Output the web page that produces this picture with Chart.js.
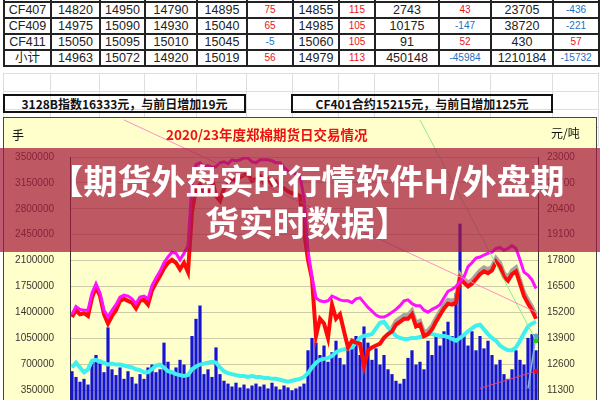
<!DOCTYPE html>
<html lang="zh-CN">

<head>
    <meta charset="UTF-8">
    <title>2020/23年度郑棉期货日交易情况</title>
    <script src="https://cdn.jsdelivr.net/npm/chart.js"></script>
    <style>
        body {
            margin: 0;
            width: 600px;
            height: 400px;
            overflow: hidden;
            position: relative;
            background: #fff;
            font-family: Arial, "Noto Sans CJK SC", sans-serif;
        }

        table {
            position: absolute;
            left: 3px;
            border-collapse: collapse;
            table-layout: fixed;
            width: 595px;
        }

        #grid {
            top: 73px;
        }

        #grid td {
            border: 1px solid #dedede;
            height: 17px;
            padding: 0;
        }

        #sheet {
            top: -14px;
        }

        #sheet td {
            border: 2px solid #222;
            padding: 0;
            text-align: center;
            font-size: 12.5px;
            color: #222;
            line-height: 14px;
        }

        #sheet td.small {
            font-size: 10px;
        }

        .up { color: #e8141c !important; }
        .down { color: #1e6fc0 !important; }

        .box {
            position: absolute;
            top: 94px;
            height: 19px;
            border: 2px solid #111;
            box-sizing: border-box;
            font-family: "Noto Sans CJK SC", sans-serif;
            font-weight: bold;
            font-size: 12px;
            line-height: 15px;
            text-align: center;
            color: #111;
        }

        #frame {
            position: absolute;
            left: 3px;
            top: 117px;
            width: 594px;
            height: 300px;
            background: #ffffcc;
            border: 1px solid #444;
            box-sizing: border-box;
        }

        #chart {
            position: absolute;
            left: 4px;
            top: 118px;
        }

        .label {
            position: absolute;
            font-family: "Noto Sans CJK SC", sans-serif;
            white-space: nowrap;
        }

        #banner {
            position: absolute;
            left: 0;
            top: 148px;
            width: 600px;
            height: 104px;
            background: rgba(165, 25, 60, 0.72);
            color: #fff;
            font-family: "Noto Sans CJK SC", sans-serif;
            font-weight: bold;
            font-size: 34px;
            line-height: 42px;
            text-align: center;
            padding: 11px 0 0 14px;
            box-sizing: border-box;
            white-space: nowrap;
        }
    </style>
</head>

<body>
    <table id="grid"></table>
    <table id="sheet"></table>

    <div class="box" style="left:3px; width:243px;">3128B指数16333元，与前日增加19元</div>
    <div class="box" style="left:291px; width:262px;">CF401合约15215元，与前日增加125元</div>

    <div id="frame"></div>
    <canvas id="chart" width="592" height="320"></canvas>

    <div class="label" style="left:12px; top:126px; font-size:12px; color:#111;">手</div>
    <div class="label" style="left:166px; top:124px; font-size:13.5px; font-weight:bold; color:#ee1111;">2020/23年度郑棉期货日交易情况</div>
    <div class="label" style="left:551px; top:124px; font-size:12px; color:#111;">元/吨</div>

    <div id="banner">【期货外盘实时行情软件H/外盘期<br>货实时数据】</div>

    <script>
        // spreadsheet part above the chart
        const colWidths = [47, 49, 45, 52, 50, 46, 46, 36, 64, 52, 62, 46];
        const tableRows = [
            ["CF407", "14820", "14950", "14790", "14895", "75", "14855", "115", "2743", "43", "23705", "-436"],
            ["CF409", "14975", "15090", "14930", "15040", "65", "14985", "105", "10175", "-147", "38720", "-221"],
            ["CF411", "15050", "15095", "15010", "15045", "-5", "15060", "105", "91", "52", "430", "57"],
            ["小计", "14963", "15072", "14920", "15019", "56", "14979", "113", "450148", "-45984", "1210184", "-15732"]
        ];
        const rowHeights = [15, 16, 15, 16, 15];
        const changeCols = [5, 7, 9, 11];

        // chart data, one value per trading day
        const volume = [
            605000, 528000, 463000, 502000, 425000, 733000, 824000, 759000, 592000, 1197000,
            631000, 553000, 656000, 502000, 605000, 528000, 438000, 566000, 502000, 656000,
            695000, 592000, 631000, 991000, 733000, 566000, 656000, 759000, 695000, 566000,
            1081000, 1313000, 1493000, 566000, 631000, 528000, 927000, 566000, 476000, 438000,
            399000, 450000, 386000, 425000, 373000, 412000, 438000, 399000, 425000, 373000,
            450000, 399000, 360000, 412000, 386000, 347000, 373000, 399000, 438000, 888000,
            1055000, 991000, 824000, 952000, 733000, 862000, 1017000, 785000, 695000, 888000,
            952000, 1081000, 824000, 1210000, 991000, 759000, 914000, 695000, 824000, 631000,
            566000, 476000, 438000, 502000, 785000, 888000, 695000, 733000, 631000, 1017000,
            824000, 1081000, 952000, 1145000, 1274000, 1081000, 1660000, 2599000, 1081000, 952000,
            1145000, 888000, 1081000, 914000, 1017000, 824000, 695000, 759000, 566000, 502000,
            631000, 888000, 759000, 695000, 1055000, 1107000, 888000
        ];
        const openInterest = [
            656000, 721000, 656000, 592000, 631000, 746000, 759000, 733000, 721000, 695000,
            708000, 695000, 695000, 682000, 669000, 656000, 631000, 618000, 592000, 592000,
            631000, 682000, 695000, 656000, 605000, 592000, 566000, 553000, 540000, 553000,
            631000, 669000, 695000, 708000, 721000, 733000, 721000, 656000, 605000, 579000,
            566000, 553000, 540000, 540000, 528000, 540000, 528000, 528000, 515000, 515000,
            502000, 502000, 489000, 476000, 463000, 476000, 489000, 502000, 528000, 579000,
            656000, 721000, 759000, 772000, 785000, 811000, 862000, 888000, 901000, 914000,
            927000, 991000, 1055000, 1081000, 1094000, 1107000, 1184000, 1261000, 1274000, 1197000,
            1145000, 1081000, 1055000, 1042000, 1042000, 1055000, 1055000, 1068000, 1081000, 1107000,
            1107000, 1094000, 1081000, 1081000, 1068000, 1042000, 1017000, 1055000, 1094000, 1145000,
            1184000, 1222000, 1235000, 1171000, 1107000, 1055000, 1017000, 952000, 914000, 888000,
            888000, 927000, 1017000, 1120000, 1210000, 1248000, 1274000
        ];
        const indexPrice = [
            15110, 15500, 15350, 15310, 15310, 16170, 16640, 16170, 15310, 14970,
            15310, 15590, 15970, 16070, 16020, 15880, 15640, 15970, 16020, 15880,
            16550, 16930, 17260, 17690, 17980, 18220, 18170, 17840, 18170, 18550,
            21660, 22620, 22710, 22520, 22570, 22470, 22520, 22710, 22760, 22660,
            22860, 22810, 22860, 22950, 22950, 22760, 22710, 22860, 22860, 22860,
            22810, 22710, 22710, 22470, 22280, 22230, 22140, 22040, 20940, 18320,
            16980, 15930, 15780, 15740, 15780, 16020, 15930, 15830, 15780, 15780,
            15690, 15880, 15930, 15690, 15450, 15260, 15070, 14970, 14970, 15070,
            15210, 15350, 15540, 15780, 15830, 15640, 15540, 15540, 15310, 15210,
            15350, 15450, 15590, 15930, 16260, 16360, 16500, 16740, 16980, 17500,
            17690, 17930, 17980, 18080, 18170, 18220, 18410, 18460, 18320, 18410,
            18550, 18410, 17840, 17220, 17070, 16830, 16400
        ];
        const futuresPrice = [
            14970, 15310, 15110, 15160, 15020, 15930, 16500, 16020, 15110, 14640,
            15020, 15310, 15780, 15880, 15780, 15690, 15400, 15780, 15830, 15590,
            16310, 16690, 17030, 17410, 17690, 17840, 17690, 17360, 17690, 17220,
            20230, 21420, 21610, 21280, 21140, 21900, 21040, 20800, 21420, 21660,
            21900, 21800, 22000, 22090, 22140, 21800, 21900, 22040, 21710, 21900,
            21610, 21760, 21520, 21420, 21280, 21180, 21140, 21040, 19270, 17840,
            16880, 14010, 14880, 14640, 13920, 15590, 14880, 15110, 14250, 13440,
            13780, 13680, 13630, 12490, 13300, 13440, 13540, 13630, 13920, 14110,
            14250, 14590, 14730, 14880, 14880, 15110, 14490, 14590, 14010, 14110,
            14350, 14730, 15070, 15400, 15640, 15590, 15690, 16930, 16690, 16500,
            16640, 16880, 17120, 17260, 17170, 17310, 17740, 17500, 16980, 16790,
            17120, 17260, 16640, 16020, 15640, 15310, 14880
        ];
        const futuresShade = [
            null, null, null, null, null, null, null, null, null, null,
            null, null, null, null, null, null, null, null, null, null,
            null, null, null, null, null, null, null, null, null, null,
            null, null, null, null, null, null, null, null, null, null,
            null, null, null, null, null, null, null, null, null, null,
            null, null, null, null, null, null, null, null, null, null,
            null, null, null, null, null, null, null, null, null, null,
            null, null, null, null, null, null, null, null, null, null,
            14420, 14780, 14920, 15070, 15070, 15310, 14680, 14780, 14210, 14300,
            14540, 14920, 15260, 15590, 15830, 15780, 15880, 17120, 16880, 16690,
            16830, 17070, 17310, 17460, 17360, 17500, 17930, 17690, 17170, 16980,
            17310, 17460, 16830, 16210, 15830, 15500, 15070
        ];
        const days = volume.map((_, i) => i);

        // hand drawn lines on the sheet, as [day index, price]
        const pinkLine = [{ x: 13, y: 24860 }, { x: 116, y: 15210 }];
        const greenLine = [{ x: 87, y: 24860 }, { x: 116, y: 13780 }];
        const redLine = [{ x: 102, y: 11390 }, { x: 116, y: 12250 }];
        const blueLine = [{ x: 114, y: 11390 }, { x: 116, y: 14010 }];

        function buildTables() {
            const colgroup = colWidths.map(w => `<col style="width:${w}px">`).join("");

            let grid = colgroup;
            for (let r = 0; r < 4; r++) {
                grid += "<tr>" + colWidths.map(() => "<td></td>").join("") + "</tr>";
            }
            document.getElementById("grid").innerHTML = grid;

            let sheet = colgroup;
            sheet += `<tr style="height:${rowHeights[0]}px">` + colWidths.map(() => "<td></td>").join("") + "</tr>";
            tableRows.forEach((row, r) => {
                sheet += `<tr style="height:${rowHeights[r + 1]}px">`;
                row.forEach((cell, c) => {
                    let cls = "";
                    if (changeCols.includes(c)) {
                        cls = "small " + (cell.startsWith("-") ? "down" : "up");
                    }
                    sheet += `<td class="${cls}">${cell}</td>`;
                });
                sheet += "</tr>";
            });
            document.getElementById("sheet").innerHTML = sheet;
        }

        function drawChart() {
            const ctx = document.getElementById("chart").getContext("2d");
            const tickFont = { family: "Arial", size: 10 };

            new Chart(ctx, {
                data: {
                    labels: days,
                    datasets: [
                        {
                            type: "line",
                            data: pinkLine,
                            yAxisID: "yR",
                            borderColor: "rgba(255, 130, 200, 0.9)",
                            borderWidth: 1,
                            pointRadius: 0,
                            clip: false,
                            order: 1
                        },
                        {
                            type: "line",
                            data: greenLine,
                            yAxisID: "yR",
                            borderColor: "#8fe88f",
                            borderWidth: 1,
                            pointRadius: [0, 2.5],
                            pointBackgroundColor: "#22cc22",
                            pointBorderWidth: 0,
                            clip: false,
                            order: 1
                        },
                        {
                            type: "line",
                            data: redLine,
                            yAxisID: "yR",
                            borderColor: "#e8406a",
                            borderWidth: 1,
                            pointRadius: [0, 2.5],
                            pointBackgroundColor: "#e01030",
                            pointBorderWidth: 0,
                            clip: false,
                            order: 1
                        },
                        {
                            type: "line",
                            data: blueLine,
                            yAxisID: "yR",
                            borderColor: "#7fb8f0",
                            borderWidth: 1.5,
                            pointRadius: [0, 2.5],
                            pointBackgroundColor: "#5aa0e8",
                            pointBorderWidth: 0,
                            clip: false,
                            order: 1
                        },
                        {
                            type: "line",
                            label: "3128B指数",
                            data: indexPrice,
                            yAxisID: "yR",
                            borderColor: "#ff10ff",
                            borderWidth: 3,
                            pointRadius: 0,
                            tension: 0,
                            order: 2
                        },
                        {
                            type: "line",
                            label: "期货价格",
                            data: futuresPrice,
                            yAxisID: "yR",
                            borderColor: "#ff0a0a",
                            borderWidth: 4,
                            pointRadius: 0,
                            tension: 0,
                            order: 3
                        },
                        {
                            type: "line",
                            data: futuresShade,
                            yAxisID: "yR",
                            borderColor: "#a8a4a0",
                            borderWidth: 4,
                            pointRadius: 0,
                            tension: 0,
                            order: 4
                        },
                        {
                            type: "line",
                            label: "持仓量",
                            data: openInterest,
                            yAxisID: "yL",
                            borderColor: "#3ef0f0",
                            borderWidth: 4,
                            pointRadius: 0,
                            tension: 0,
                            order: 5
                        },
                        {
                            type: "bar",
                            label: "成交量",
                            data: volume,
                            yAxisID: "yL",
                            backgroundColor: "#1414d2",
                            categoryPercentage: 1,
                            barPercentage: 0.8,
                            order: 6
                        }
                    ]
                },
                options: {
                    responsive: false,
                    animation: false,
                    events: [],
                    layout: {
                        padding: { top: 39, bottom: 9, left: 0, right: 0 }
                    },
                    plugins: {
                        legend: { display: false },
                        tooltip: { enabled: false }
                    },
                    scales: {
                        x: {
                            display: false
                        },
                        yL: {
                            position: "left",
                            min: 0,
                            max: 3500000,
                            afterFit: (scale) => { scale.width = 66; },
                            ticks: {
                                stepSize: 350000,
                                padding: 16,
                                color: "#3a3530",
                                font: tickFont,
                                callback: (v) => String(v)
                            },
                            grid: {
                                color: "rgba(110, 110, 100, 0.35)",
                                drawTicks: false
                            },
                            border: { color: "#333", width: 1 }
                        },
                        yR: {
                            position: "right",
                            min: 10000,
                            max: 23000,
                            afterFit: (scale) => { scale.width = 58; },
                            ticks: {
                                stepSize: 1300,
                                padding: 9,
                                color: "#3a3530",
                                font: tickFont,
                                callback: (v) => String(v)
                            },
                            grid: { display: false, drawTicks: false },
                            border: { color: "#333", width: 1 }
                        }
                    }
                }
            });
        }

        buildTables();
        drawChart();
    </script>
</body>

</html>
